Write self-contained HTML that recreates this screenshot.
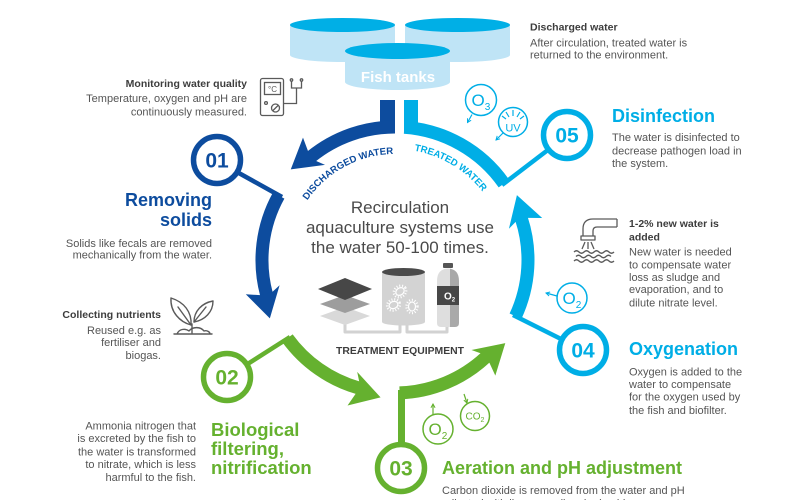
<!DOCTYPE html>
<html><head><meta charset="utf-8">
<style>
html,body{margin:0;padding:0;background:#fff;}
svg{display:block;}
text{font-family:"Liberation Sans",Arial,sans-serif;}
.t{font-weight:bold;fill:#3d3d3d;font-size:10.5px;}
.d{fill:#555;font-size:11px;}
</style></head>
<body>
<svg width="800" height="500" viewBox="0 0 800 500" xmlns="http://www.w3.org/2000/svg">
<defs>
<polygon id="ah" points="521.5,261 513,265.5 531,236 548,265.5 534.5,261"/>
<marker id="mc" viewBox="0 0 6 6" refX="5" refY="3" markerWidth="5" markerHeight="5" orient="auto" markerUnits="userSpaceOnUse"><path d="M0.5,0.5 L5,3 L0.5,5.5" fill="none" stroke="#00aee6" stroke-width="1.2"/></marker>
<marker id="mg" viewBox="0 0 6 6" refX="5" refY="3" markerWidth="5" markerHeight="5" orient="auto" markerUnits="userSpaceOnUse"><path d="M0.5,0.5 L5,3 L0.5,5.5" fill="none" stroke="#65b12f" stroke-width="1.2"/></marker>
<linearGradient id="tank" x1="0" x2="1" y1="0" y2="0"><stop offset="0" stop-color="#dedede"/><stop offset="0.6" stop-color="#dedede"/><stop offset="0.6" stop-color="#a9a9a9"/><stop offset="1" stop-color="#a9a9a9"/></linearGradient>
<path id="tpD" d="M290.6,241.6 A106,106 0 0 1 393.2,154"/>
<path id="tpT" d="M414.3,150.7 A111,111 0 0 1 504.3,240.7"/>
</defs>

<!-- Fish tanks -->
<path d="M290,25 V55 A52.5,7 0 0 0 395,55 V25 Z" fill="#bfe4f6"/>
<ellipse cx="342.5" cy="25" rx="52.5" ry="7" fill="#00afe6"/>
<path d="M405,25 V55 A52.5,7 0 0 0 510,55 V25 Z" fill="#bfe4f6"/>
<ellipse cx="457.5" cy="25" rx="52.5" ry="7" fill="#00afe6"/>
<path d="M345,51 V82 A52.5,8 0 0 0 450,82 V51 Z" fill="#bfe4f6"/>
<ellipse cx="397.5" cy="51" rx="52.5" ry="8" fill="#00afe6"/>
<text x="398" y="82" font-size="15" font-weight="bold" fill="#fff" text-anchor="middle">Fish tanks</text>

<!-- Pipes -->
<rect x="380" y="100" width="15" height="33" fill="#0d4c9e"/>
<rect x="404" y="100" width="14" height="33" fill="#00aee6"/>

<!-- Arcs -->
<g fill="none" stroke-width="13">
<path d="M395,127 A133,133 0 0 0 311.3,156.6" stroke="#0d4c9e"/>
<path d="M278.7,195.5 A133,133 0 0 0 266.5,294.4" stroke="#0d4c9e"/>
<path d="M287.4,338.2 A133,133 0 0 0 358.3,387.9" stroke="#65b12f"/>
<path d="M399.6,392.9 A133,133 0 0 0 485.7,357.3" stroke="#65b12f"/>
<path d="M515.5,316.2 A133,133 0 0 0 521.5,218.9" stroke="#00aee6"/>
<path d="M504,183.7 A133,133 0 0 0 404.3,127.3" stroke="#00aee6"/>
</g>
<use href="#ah" fill="#0d4c9e" transform="rotate(-129 395 260)"/>
<use href="#ah" fill="#0d4c9e" transform="rotate(-195 395 260)"/>
<use href="#ah" fill="#65b12f" transform="rotate(-254 395 260)"/>
<use href="#ah" fill="#65b12f" transform="rotate(-313 395 260)"/>
<use href="#ah" fill="#00aee6" transform="rotate(-18 395 260)"/>

<!-- Connectors -->
<g stroke-width="4.5" fill="none">
<line x1="237" y1="172" x2="282" y2="197" stroke="#0d4c9e"/>
<line x1="246" y1="365" x2="290" y2="337" stroke="#65b12f"/>
<line x1="562" y1="339.5" x2="513" y2="315" stroke="#00aee6"/>
<line x1="548.5" y1="149.5" x2="502" y2="185" stroke="#00aee6"/>
</g>
<rect x="398" y="390" width="7" height="56" fill="#65b12f"/>

<!-- Number circles -->
<g fill="#fff" stroke-width="5.5">
<circle cx="217" cy="160" r="23.5" stroke="#0d4c9e"/>
<circle cx="227" cy="377" r="23.5" stroke="#65b12f"/>
<circle cx="401" cy="468" r="23.5" stroke="#65b12f"/>
<circle cx="583" cy="350" r="23.5" stroke="#00aee6"/>
<circle cx="567" cy="135" r="23.5" stroke="#00aee6"/>
</g>
<g font-size="21" font-weight="bold" text-anchor="middle">
<text x="217" y="167.5" fill="#0d4c9e">01</text>
<text x="227" y="384.5" fill="#65b12f">02</text>
<text x="401" y="475.5" fill="#65b12f">03</text>
<text x="583" y="357.5" fill="#00aee6">04</text>
<text x="567" y="142.5" fill="#00aee6">05</text>
</g>

<!-- Curved labels -->
<text font-size="9.6" font-weight="bold" fill="#0d4c9e"><textPath href="#tpD" startOffset="100%" text-anchor="end">DISCHARGED WATER</textPath></text>
<text font-size="9.6" font-weight="bold" fill="#00aee6"><textPath href="#tpT" startOffset="0">TREATED WATER</textPath></text>

<!-- Center text -->
<g font-size="17" fill="#4a4a4a" text-anchor="middle">
<text x="400" y="213">Recirculation</text>
<text x="400" y="233">aquaculture systems use</text>
<text x="400" y="253">the water 50-100 times.</text>
</g>

<!-- Treatment equipment -->
<g fill="none" stroke="#d2d2d2" stroke-width="3" stroke-linejoin="round">
<path d="M345,322 V332 H400 V324"/>
<path d="M407,324 V332 H447 V326"/>
</g>
<polygon points="320,316 345,307 370,316 345,325" fill="#d9d9d9"/>
<polygon points="320,304 345,295 370,304 345,313" fill="#9d9d9d"/>
<polygon points="318,289 345,278 372,289 345,300" fill="#474747"/>
<path d="M382,272 V322 A21.5,3.5 0 0 0 425,322 V272 Z" fill="#d3d3d3"/>
<ellipse cx="403.5" cy="272" rx="21.5" ry="4" fill="#4a4a4a"/>
<g fill="none" stroke="#fff">
<ellipse cx="400" cy="291.5" rx="4.5" ry="3.5" stroke-width="1.2" transform="rotate(-35 400 291.5)"/>
<ellipse cx="400" cy="291.5" rx="6.5" ry="5.5" stroke-width="2.4" stroke-dasharray="1 1.8" transform="rotate(-35 400 291.5)"/>
<ellipse cx="393.5" cy="305" rx="4.5" ry="3.5" stroke-width="1.2" transform="rotate(-20 393.5 305)"/>
<ellipse cx="393.5" cy="305" rx="6.5" ry="5.5" stroke-width="2.4" stroke-dasharray="1 1.8" transform="rotate(-20 393.5 305)"/>
<ellipse cx="412" cy="306.5" rx="3.5" ry="4.5" stroke-width="1.2"/>
<ellipse cx="412" cy="306.5" rx="5.5" ry="6.5" stroke-width="2.4" stroke-dasharray="1 1.8"/>
</g>
<rect x="443" y="263" width="10" height="5" rx="1" fill="#555"/>
<path d="M437,281 Q437,269 448,268.5 Q459,269 459,281 V323 Q459,327 455,327 H441 Q437,327 437,323 Z" fill="url(#tank)"/>
<rect x="437" y="286" width="22" height="19" fill="#474747"/>
<text x="444" y="299.5" font-size="10" font-weight="bold" fill="#fff">O<tspan font-size="6" dy="2">2</tspan></text>
<text x="400" y="354" font-size="10.4" font-weight="bold" fill="#3d3d3d" text-anchor="middle">TREATMENT EQUIPMENT</text>

<!-- Small gas circles -->
<g fill="#fff" stroke-width="1.5">
<circle cx="481" cy="100" r="15.5" stroke="#00aee6"/>
<circle cx="513" cy="122" r="14.5" stroke="#00aee6"/>
<circle cx="572" cy="298" r="15" stroke="#00aee6"/>
<circle cx="438" cy="429" r="15" stroke="#65b12f"/>
<circle cx="475" cy="416" r="14.5" stroke="#65b12f"/>
</g>
<g fill="none" stroke-width="1.2">
<line x1="472" y1="114.5" x2="467.5" y2="122.5" stroke="#00aee6" marker-end="url(#mc)"/>
<line x1="503" y1="133" x2="496" y2="140" stroke="#00aee6" marker-end="url(#mc)"/>
<line x1="557" y1="296" x2="546" y2="293" stroke="#00aee6" marker-end="url(#mc)"/>
<line x1="433" y1="415" x2="433" y2="404" stroke="#65b12f" marker-end="url(#mg)"/>
<line x1="464" y1="394" x2="467" y2="403" stroke="#65b12f" marker-end="url(#mg)"/>
<path d="M513,116 V110 M509,117 L506,112 M517,117 L520,112 M506,119 L502,116 M520,119 L524,116" stroke="#00aee6"/>
</g>
<text x="471.5" y="106" font-size="17" fill="#00aee6">O<tspan font-size="10" dy="4">3</tspan></text>
<text x="513" y="131.5" font-size="11" fill="#00aee6" text-anchor="middle">UV</text>
<text x="562.5" y="304" font-size="17" fill="#00aee6">O<tspan font-size="10" dy="4">2</tspan></text>
<text x="428.5" y="435" font-size="17" fill="#65b12f">O<tspan font-size="10" dy="4">2</tspan></text>
<text x="465.5" y="419.5" font-size="10" fill="#65b12f">CO<tspan font-size="7" dy="2.5">2</tspan></text>

<!-- Monitor icon -->
<g fill="none" stroke="#5a5a5a" stroke-width="1.3">
<rect x="260.5" y="78.5" width="23" height="37" rx="2"/>
<rect x="264.5" y="82.5" width="16" height="12"/>
<circle cx="266" cy="103" r="1.4"/>
<circle cx="275.5" cy="108" r="4"/>
<line x1="273" y1="110.5" x2="278" y2="105.5"/>
<path d="M283.5,103.5 H296.5 V88 M291.5,81 V88 H301.5 V81"/>
<circle cx="291.5" cy="80" r="1.2"/><circle cx="301.5" cy="80" r="1.2"/>
</g>
<text x="272.5" y="92" font-size="8" fill="#5a5a5a" text-anchor="middle">°C</text>

<!-- Plant icon -->
<g fill="none" stroke="#5a5a5a" stroke-width="1.4" stroke-linejoin="round" stroke-linecap="round">
<path d="M191,325 C180,322 170,312 171,298 C184,302 192,312 191,325 Z"/>
<path d="M191,325 L178,307"/>
<path d="M194,322 C194,311 202,303 213,301 C213,312 205,320 194,322 Z"/>
<path d="M194,322 L206,307"/>
<path d="M192,333 V324"/>
<path d="M174,334 H212 M177,334 C179,329 185,328 189,331 C193,326 201,327 204,331 C207,330 210,332 210,334"/>
</g>

<!-- Faucet icon -->
<g fill="none" stroke="#5a5a5a" stroke-width="1.3" stroke-linejoin="round">
<path d="M617,219 H593 Q583,219 583,229 V236 M617,227 H597 Q593,227 593,231 V236 M617,219 V227"/>
<path d="M581,236 H595 V240 H581 Z"/>
<path d="M585,242 L582,249 M588,242 V249 M591,242 L594,249"/>
<path d="M574,252 q2.5,-2.5 5,0 t5,0 t5,0 t5,0 t5,0 t5,0 t5,0 t5,0"/>
<path d="M576,256.5 q2.5,-2.5 5,0 t5,0 t5,0 t5,0 t5,0 t5,0 t5,0"/>
<path d="M574,261 q2.5,-2.5 5,0 t5,0 t5,0 t5,0 t5,0 t5,0 t5,0 t5,0"/>
</g>

<!-- Right side texts -->
<text x="530" y="30.5" class="t">Discharged water</text>
<text x="530" y="46.5" class="d">After circulation, treated water is</text>
<text x="530" y="58.5" class="d">returned to the environment.</text>

<text x="612" y="122" font-size="18" font-weight="bold" fill="#00aee6">Disinfection</text>
<text x="612" y="141" class="d">The water is disinfected to</text>
<text x="612" y="154.5" class="d">decrease pathogen load in</text>
<text x="612" y="167" class="d">the system.</text>

<text x="629" y="227" class="t">1-2% new water is</text>
<text x="629" y="240.5" class="t">added</text>
<text x="629" y="255.5" class="d">New water is needed</text>
<text x="629" y="268.5" class="d">to compensate water</text>
<text x="629" y="281" class="d">loss as sludge and</text>
<text x="629" y="293" class="d">evaporation, and to</text>
<text x="629" y="306.5" class="d">dilute nitrate level.</text>

<text x="629" y="355" font-size="18" font-weight="bold" fill="#00aee6">Oxygenation</text>
<text x="629" y="375.5" class="d">Oxygen is added to the</text>
<text x="629" y="388" class="d">water to compensate</text>
<text x="629" y="400.5" class="d">for the oxygen used by</text>
<text x="629" y="414" class="d">the fish and biofilter.</text>

<!-- Left side texts -->
<g text-anchor="end">
<text x="247" y="87" class="t">Monitoring water quality</text>
<text x="247" y="102" class="d">Temperature, oxygen and pH are</text>
<text x="247" y="115.5" class="d">continuously measured.</text>

<text x="212" y="206" font-size="18" font-weight="bold" fill="#0d4c9e">Removing</text>
<text x="212" y="226" font-size="18" font-weight="bold" fill="#0d4c9e">solids</text>
<text x="212" y="247" class="d">Solids like fecals are removed</text>
<text x="212" y="258.5" class="d">mechanically from the water.</text>

<text x="161" y="318" class="t">Collecting nutrients</text>
<text x="161" y="334" class="d">Reused e.g. as</text>
<text x="161" y="346" class="d">fertiliser and</text>
<text x="161" y="359" class="d">biogas.</text>

<text x="196" y="429.5" class="d">Ammonia nitrogen that</text>
<text x="196" y="442" class="d">is excreted by the fish to</text>
<text x="196" y="455.5" class="d">the water is transformed</text>
<text x="196" y="468" class="d">to nitrate, which is less</text>
<text x="196" y="481" class="d">harmful to the fish.</text>
</g>

<g font-size="18.5" font-weight="bold" fill="#65b12f">
<text x="211" y="436">Biological</text>
<text x="211" y="455">filtering,</text>
<text x="211" y="474">nitrification</text>
</g>

<text x="442" y="474" font-size="18" font-weight="bold" fill="#65b12f">Aeration and pH adjustment</text>
<text x="442" y="494" class="d">Carbon dioxide is removed from the water and pH</text>
<text x="442" y="507" class="d">adjusted with lime or sodium hydroxide.</text>
</svg>
</body></html>
